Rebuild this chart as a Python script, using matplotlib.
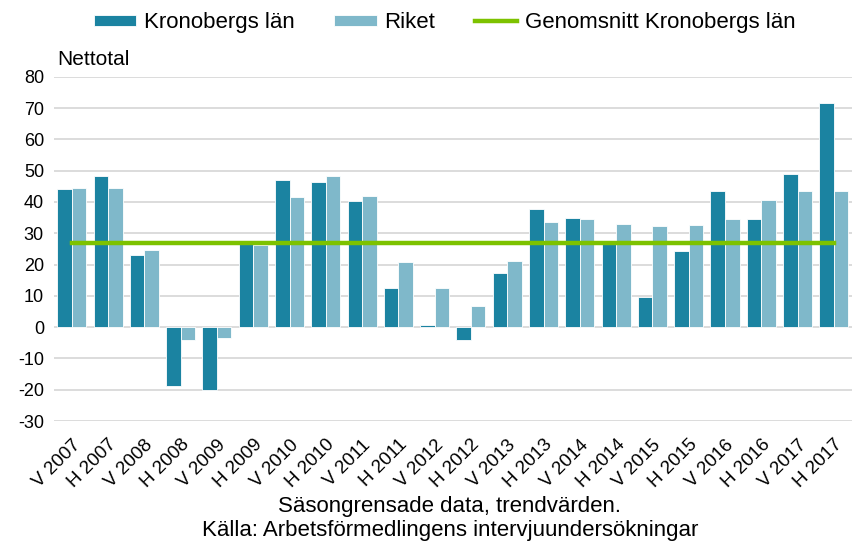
import matplotlib.pyplot as plt
import numpy as np

plt.rcParams["font.family"] = ["Liberation Sans", "DejaVu Sans"]
plt.rcParams["axes.unicode_minus"] = False

# Half-years (V = vår, H = höst)
periods = [
    "V 2007", "H 2007", "V 2008", "H 2008", "V 2009", "H 2009",
    "V 2010", "H 2010", "V 2011", "H 2011", "V 2012", "H 2012",
    "V 2013", "H 2013", "V 2014", "H 2014", "V 2015", "H 2015",
    "V 2016", "H 2016", "V 2017", "H 2017",
]
kronoberg = [44.2, 48.4, 22.9, -18.9, -20.1, 27.0, 47.0, 46.3, 40.2, 12.6, 0.7,
             -4.2, 17.2, 37.7, 34.8, 27.0, 9.7, 24.4, 43.4, 34.5, 48.9, 71.5]
riket = [44.6, 44.6, 24.7, -4.2, -3.4, 26.2, 41.6, 48.4, 42.0, 20.8, 12.6,
         6.8, 21.2, 33.7, 34.5, 33.1, 32.3, 32.6, 34.5, 40.5, 43.4, 43.4]
kronoberg_avg = 27.0

dark = "#1B83A1"
light = "#7FB8CA"
green = "#7DC200"

fig = plt.figure(figsize=(8.52, 5.45), dpi=100)
ax = fig.add_axes([0.063, 0.2275, 0.937, 0.6315])

x = np.arange(len(periods))
w = 0.4
b1 = ax.bar(x - w / 2, kronoberg, w, color=dark, edgecolor="white",
            linewidth=0.6, label="Kronobergs län", zorder=2)
b2 = ax.bar(x + w / 2, riket, w, color=light, edgecolor="white",
            linewidth=0.6, label="Riket", zorder=2)
ln, = ax.plot(x, [kronoberg_avg] * len(x), color=green, linewidth=3.2,
              label="Genomsnitt Kronobergs län", zorder=3)

ax.set_xlim(-0.5, len(periods) - 0.5)
ax.set_ylim(-30, 80)
ax.set_yticks(range(-30, 81, 10))
ax.tick_params(axis="y", length=0, labelsize=13, pad=7)
ax.tick_params(axis="x", length=0, labelsize=13.5, pad=11)
ax.set_xticks(x)
ax.set_xticklabels(periods, rotation=45, ha="right", rotation_mode="anchor")
ax.yaxis.grid(True, color="#D9D9D9", linewidth=1.3, zorder=0)
ax.set_axisbelow(True)
for s in ax.spines.values():
    s.set_visible(False)

fig.text(0.067, 0.881, "Nettotal", fontsize=15, ha="left", va="baseline")

fig.legend(handles=[b1, b2, ln], loc="center", bbox_to_anchor=(0.522, 0.958),
           ncol=3, frameon=False, fontsize=16, handlelength=1.9,
           handleheight=0.45, handletextpad=0.35, columnspacing=1.8)

fig.text(0.528, 0.070, "Säsongrensade data, trendvärden.", fontsize=16,
         ha="center", va="center")
fig.text(0.528, 0.027, "Källa: Arbetsförmedlingens intervjuundersökningar",
         fontsize=16, ha="center", va="center")

fig.savefig("out.png", dpi=100)
